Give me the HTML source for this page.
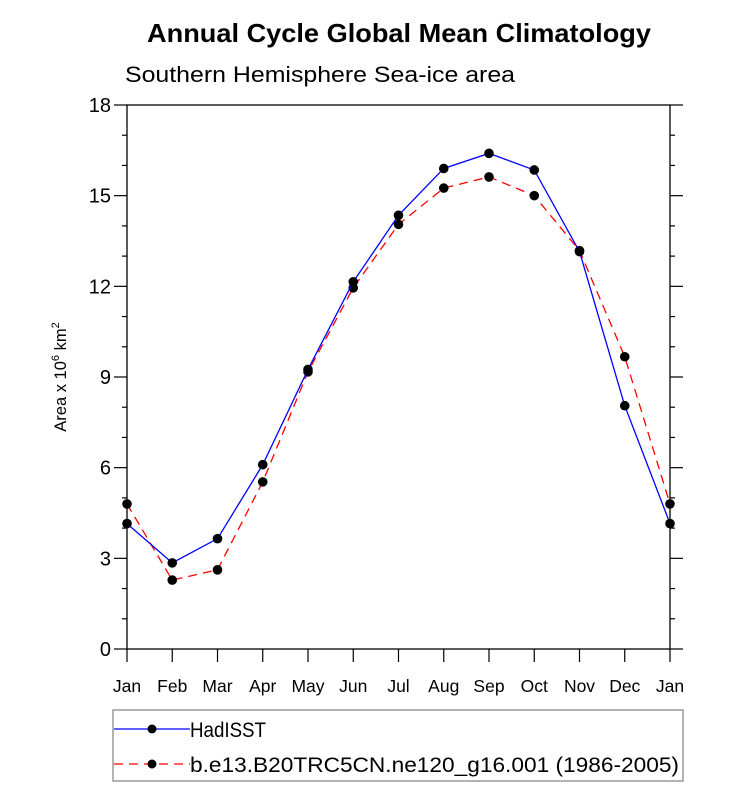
<!DOCTYPE html>
<html><head><meta charset="utf-8"><style>
body{margin:0;background:#fff;}
svg{display:block;font-family:"Liberation Sans",sans-serif;}
</style></head><body>
<svg id="chart" width="733" height="790">
<text x="147" y="42" textLength="504" lengthAdjust="spacingAndGlyphs" font-size="26" font-weight="bold">Annual Cycle Global Mean Climatology</text>
<text x="125" y="82" textLength="390" lengthAdjust="spacingAndGlyphs" font-size="22">Southern Hemisphere Sea-ice area</text>
<text transform="translate(66,377) rotate(-90)" text-anchor="middle" font-size="16.5">Area x 10<tspan dy="-7" font-size="11">6</tspan><tspan dy="7"> km</tspan><tspan dy="-7" font-size="11">2</tspan></text>
<g id="axes"></g>
<g id="series"></g>
<g>
<rect x="113" y="710" width="570" height="71" fill="none" stroke="#999" stroke-width="1.5"/>
<line x1="114" y1="729" x2="190" y2="729" stroke="#0000ff" stroke-width="1.3"/>
<circle cx="152" cy="729" r="4.5" fill="#000"/>
<text x="190" y="737" textLength="76" lengthAdjust="spacingAndGlyphs" font-size="21">HadISST</text>
<line x1="114" y1="764" x2="190" y2="764" stroke="#ff0000" stroke-width="1.3" stroke-dasharray="9,6"/>
<circle cx="152" cy="764" r="4.5" fill="#000"/>
<text x="190" y="772" textLength="489" lengthAdjust="spacingAndGlyphs" font-size="21">b.e13.B20TRC5CN.ne120_g16.001 (1986-2005)</text>
</g>
</svg>
<script>
const months=["Jan","Feb","Mar","Apr","May","Jun","Jul","Aug","Sep","Oct","Nov","Dec","Jan"];
const yTicks=[0,3,6,9,12,15,18];
const hadisst=[4.15,2.85,3.65,6.1,9.25,12.15,14.35,15.9,16.4,15.85,13.15,8.05,4.15];
const model=[4.8,2.28,2.62,5.53,9.17,11.95,14.05,15.25,15.62,15.0,13.18,9.67,4.8];
const NS="http://www.w3.org/2000/svg";
const X0=127,X1=670,Y0=649,Y1=105;
function xs(i){return X0+(X1-X0)*i/(months.length-1);}
function ys(v){return Y0-(Y0-Y1)*v/18;}
function mk(t,a,p){const e=document.createElementNS(NS,t);for(const k in a)e.setAttribute(k,a[k]);p.appendChild(e);return e;}
const ax=document.getElementById('axes');
const frame=mk('rect',{x:X0,y:Y1,width:X1-X0,height:Y0-Y1,fill:'none',stroke:'#000','stroke-width':1.3},ax);


for(let v=0;v<=18;v++){
  const major=v%3===0,len=major?13:5,y=ys(v);
  mk('line',{x1:X0-len,y1:y,x2:X0,y2:y,stroke:'#000','stroke-width':1.2},ax);
  mk('line',{x1:X1,y1:y,x2:X1+len,y2:y,stroke:'#000','stroke-width':1.2},ax);
}
yTicks.forEach(v=>{
  const t=mk('text',{x:X0-16,y:ys(v)+7,'text-anchor':'end','font-size':20},ax);
  t.textContent=v;
  
  
});
months.forEach((m,i)=>{
  mk('line',{x1:xs(i),y1:Y0,x2:xs(i),y2:Y0+13,stroke:'#000','stroke-width':1.2},ax);
  const t=mk('text',{x:xs(i),y:Y0+43,'text-anchor':'middle','font-size':17.5},ax);
  t.textContent=m;
  
  
});
const sg=document.getElementById('series');
function draw(vals,color,dash,name){
  const pl=mk('polyline',{points:vals.map((v,i)=>xs(i)+','+ys(v)).join(' '),fill:'none',stroke:color,'stroke-width':1.3,'stroke-dasharray':dash},sg);
  
  
  vals.forEach((v,i)=>{
    const c=mk('circle',{cx:xs(i),cy:ys(v),r:4.8,fill:'#000'},sg);
    
    
  });
}
draw(model,'#ff0000','9,6','model');
draw(hadisst,'#0000ff','none','hadisst');
</script>
</body></html>
